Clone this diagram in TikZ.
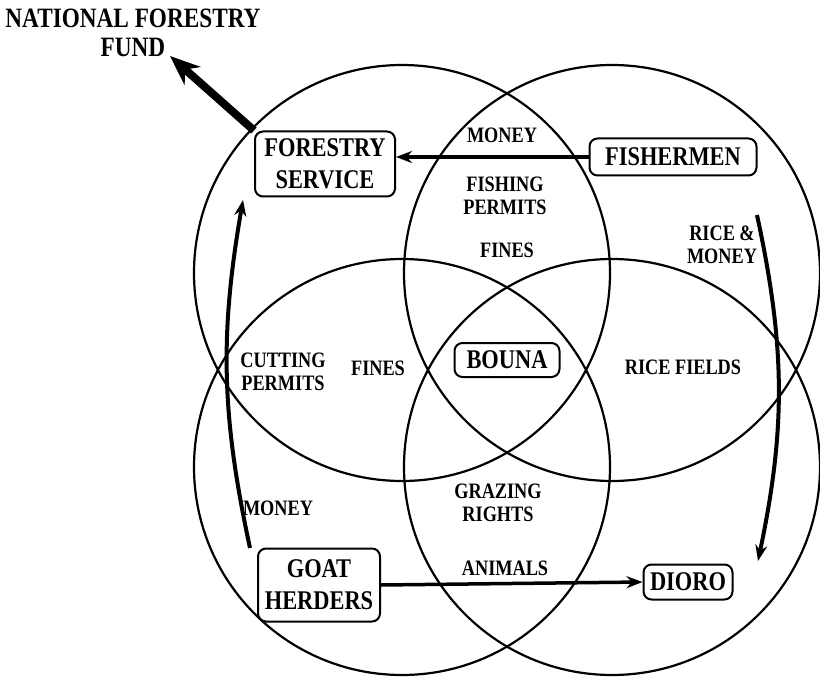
\documentclass[tikz,border=0pt]{standalone}
\usepackage{fontspec}
\setmainfont[FakeStretch=0.83]{Liberation Serif}
\usetikzlibrary{positioning, arrows.meta}

\begin{document}
\begin{tikzpicture}[x=1pt, y=-1pt,
  ring/.style={line width=2.2pt},
  box/.style={draw, line width=2pt, rounded corners=8pt, align=center,
              inner sep=0pt, font=\fontsize{27}{32}\selectfont\bfseries},
  note/.style={align=center, inner sep=0pt,
               font=\fontsize{22}{23}\selectfont\bfseries},
  arrow/.style={-{Stealth[length=16pt, width=12pt]}, line width=3.5pt},
  heavy/.style={-{Stealth[length=30pt, width=24pt]}, line width=8pt}]
  \useasboundingbox (0,0) rectangle (820,682);
  % four overlapping areas
  \draw[ring] (402,273) circle[radius=208];
  \draw[ring] (612,273) circle[radius=208];
  \draw[ring] (402,467) circle[radius=208];
  \draw[ring] (612,467) circle[radius=208];
  % actors
  \node[box, minimum width=140pt, minimum height=65pt] (forestry) at (325,164) {FORESTRY\\SERVICE};
  \node[box, minimum width=167pt, minimum height=37pt] (fishermen) at (673,157) {FISHERMEN};
  \node[box, minimum width=105pt, minimum height=34pt] (bouna) at (507,360) {BOUNA};
  \node[box, minimum width=122pt, minimum height=73pt] (goat) at (319,585) {GOAT\\HERDERS};
  \node[box, minimum width=89pt, minimum height=35pt] (dioro) at (688,582) {DIORO};
  \node[align=center, inner sep=0pt, font=\fontsize{28}{29}\selectfont\bfseries] (fund) at (133,33) {NATIONAL FORESTRY\\FUND};
  % labels
  \node[note] (money) at (502,135) {MONEY};
  \node[note] (fishing) at (505,196) {FISHING\\PERMITS};
  \node[note] (finestop) at (507,250) {FINES};
  \node[note] (ricemoney) at (722,245) {RICE \&\\MONEY};
  \node[note] (cutting) at (283,372) {CUTTING\\PERMITS};
  \node[note] (finesleft) at (378,368) {FINES};
  \node[note] (ricefields) at (683,367) {RICE FIELDS};
  \node[note] (moneyleft) at (278,508) {MONEY};
  \node[note] (grazing) at (498,503) {GRAZING\\RIGHTS};
  \node[note] (animals) at (505,568) {ANIMALS};
  % flows
  \coordinate (fundtip) at (170,56);
  \coordinate (riceout) at (757,215);
  \coordinate (ricein) at (758,561);
  \coordinate (goatout) at (250,548);
  \coordinate (goatin) at (243,200);
  \draw[heavy] (forestry.north west) -- (fundtip);
  \draw[arrow] (fishermen.west) -- (forestry.east |- fishermen.west);
  \draw[arrow, line width=4pt] (riceout) to[bend left=12] (ricein);
  \draw[arrow, line width=4pt] (goatout) to[bend left=11] (goatin);
  \draw[arrow] (goat.east) -- (dioro.west);
\end{tikzpicture}
\end{document}
